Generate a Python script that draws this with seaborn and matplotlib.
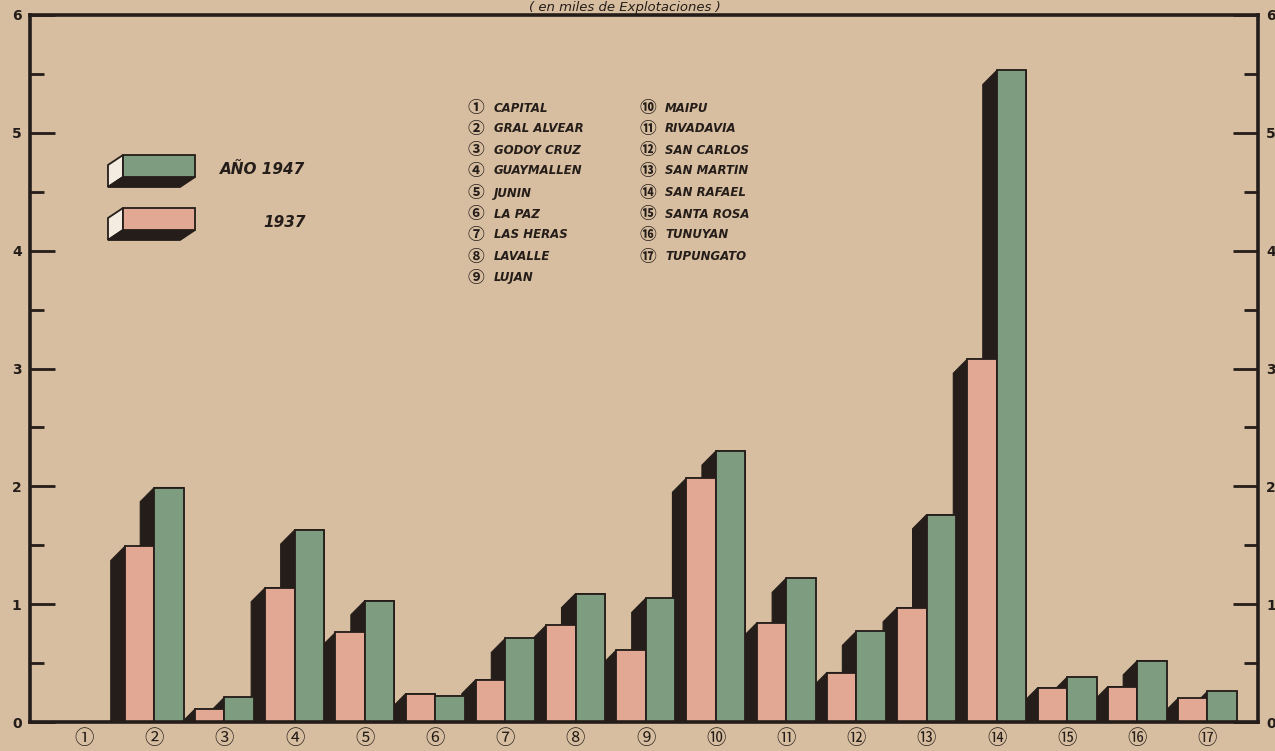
import matplotlib
matplotlib.use("Agg")
import matplotlib.pyplot as plt
from matplotlib.patches import Polygon
from matplotlib.ticker import MultipleLocator
import pandas as pd
import seaborn as sns

# departments of Mendoza, in thousands of farms
numbers = list(range(1, 18))
departments = [
    "CAPITAL", "GRAL ALVEAR", "GODOY CRUZ", "GUAYMALLEN", "JUNIN",
    "LA PAZ", "LAS HERAS", "LAVALLE", "LUJAN", "MAIPU", "RIVADAVIA",
    "SAN CARLOS", "SAN MARTIN", "SAN RAFAEL", "SANTA ROSA", "TUNUYAN",
    "TUPUNGATO",
]
circled = ["①", "②", "③", "④", "⑤", "⑥", "⑦", "⑧", "⑨",
           "⑩", "⑪", "⑫", "⑬", "⑭", "⑮", "⑯", "⑰"]
values_1937 = [0.0, 1.49, 0.11, 1.14, 0.76, 0.24, 0.36, 0.82, 0.61,
               2.07, 0.84, 0.42, 0.97, 3.08, 0.29, 0.30, 0.20]
values_1947 = [0.0, 1.99, 0.21, 1.63, 1.03, 0.22, 0.71, 1.09, 1.05,
               2.30, 1.22, 0.77, 1.76, 5.53, 0.38, 0.52, 0.26]
years = ["1937", "1947"]

bg = "#d8bea0"
ink = "#241d19"
pink = "#e2a893"
green = "#7e9c7f"
colors = {"1937": pink, "1947": green}

df = pd.DataFrame({
    "num": numbers * 2,
    "valor": values_1937 + values_1947,
    "anio": ["1937"] * 17 + ["1947"] * 17,
})

W, H = 1275, 751
fig = plt.figure(figsize=(W / 100, H / 100), dpi=100, facecolor=bg)
ax = fig.add_axes([30 / W, 1 - 722 / H, 1228 / W, 707 / H])
ax.set_facecolor(bg)

sns.barplot(
    data=df, x="num", y="valor", hue="anio", hue_order=years,
    palette=colors, saturation=1, width=0.84, edgecolor=ink,
    linewidth=1.3, legend=False, ax=ax, zorder=3,
)

ax.set_xlim(-0.77, 16.72)
ax.set_ylim(0, 6)

# 3d shadow of every bar: extruded down and to the left
dx, dy = 0.2, 0.12
for p in list(ax.patches):
    h = p.get_height()
    if h <= 0:
        p.set_visible(False)
        continue
    x0 = p.get_x()
    w = p.get_width()
    shadow = Polygon(
        [(x0, h), (x0 - dx, h - dy), (x0 - dx, 0), (x0 + w, 0), (x0 + w, h)],
        closed=True, facecolor=ink, edgecolor=ink, lw=0.8, zorder=2,
    )
    ax.add_patch(shadow)

for side in ["left", "right", "top", "bottom"]:
    ax.spines[side].set_linewidth(2.6)
    ax.spines[side].set_color(ink)
    ax.spines[side].set_zorder(5)

ax.set_xlabel("")
ax.set_ylabel("")
ax.set_xticks(range(17))
ax.set_xticklabels(circled, fontsize=14, color=ink,
                   family=["Noto Sans CJK SC", "DejaVu Sans"])
ax.tick_params(axis="x", length=0, pad=4)

ax.set_yticks(range(7))
ax.set_yticklabels([str(v) for v in range(7)], fontsize=10,
                   fontweight="bold", color=ink)
ax.yaxis.set_minor_locator(MultipleLocator(0.5))
ax.tick_params(axis="y", which="both", direction="in", right=True,
               labelright=True, color=ink, width=2, pad=6)
ax.tick_params(axis="y", which="major", length=18)
ax.tick_params(axis="y", which="minor", length=10)


def fx(x):
    return x / W


def fy(y):
    return 1 - y / H


# title at the top edge of the scan
fig.text(fx(625), fy(0.5), "( en miles de Explotaciones )", ha="center",
         va="top", fontsize=9.5, style="italic", color=ink)

# legend boxes drawn by hand
for top, col, label, lx in [(155, green, "AÑO 1947", 220), (208, pink, "1937", 263)]:
    bottom = top + 22
    face = [(123, top), (195, top), (195, bottom), (123, bottom)]
    side = [(123, top), (108, top + 10), (108, bottom + 10), (123, bottom)]
    base = [(108, bottom + 10), (123, bottom), (195, bottom), (180, bottom + 10)]
    for pts, fc in [(side, "#f4ece0"), (base, ink), (face, col)]:
        fig.patches.append(Polygon([(fx(a), fy(b)) for a, b in pts],
                                   closed=True, transform=fig.transFigure,
                                   facecolor=fc, edgecolor=ink, lw=1.3))
    fig.text(fx(lx), fy(top + 15), label, fontsize=11, style="italic",
             fontweight="bold", color=ink, va="center", ha="left")

# list of departments
row_y = [108, 129, 150, 171, 193, 214, 235, 257, 278]
for i, name in enumerate(departments):
    if i < 9:
        cx, tx, y = 476, 494, row_y[i]
    else:
        cx, tx, y = 648, 665, row_y[i - 9]
    fig.text(fx(cx), fy(y), circled[i], fontsize=12, color=ink,
             ha="center", va="center", fontweight="bold",
             family=["Noto Sans CJK SC", "DejaVu Sans"])
    fig.text(fx(tx), fy(y), name, fontsize=8.5, style="italic",
             fontweight="bold", color=ink, ha="left", va="center")

plt.savefig("out.png", dpi=100, facecolor=bg)
plt.close()
